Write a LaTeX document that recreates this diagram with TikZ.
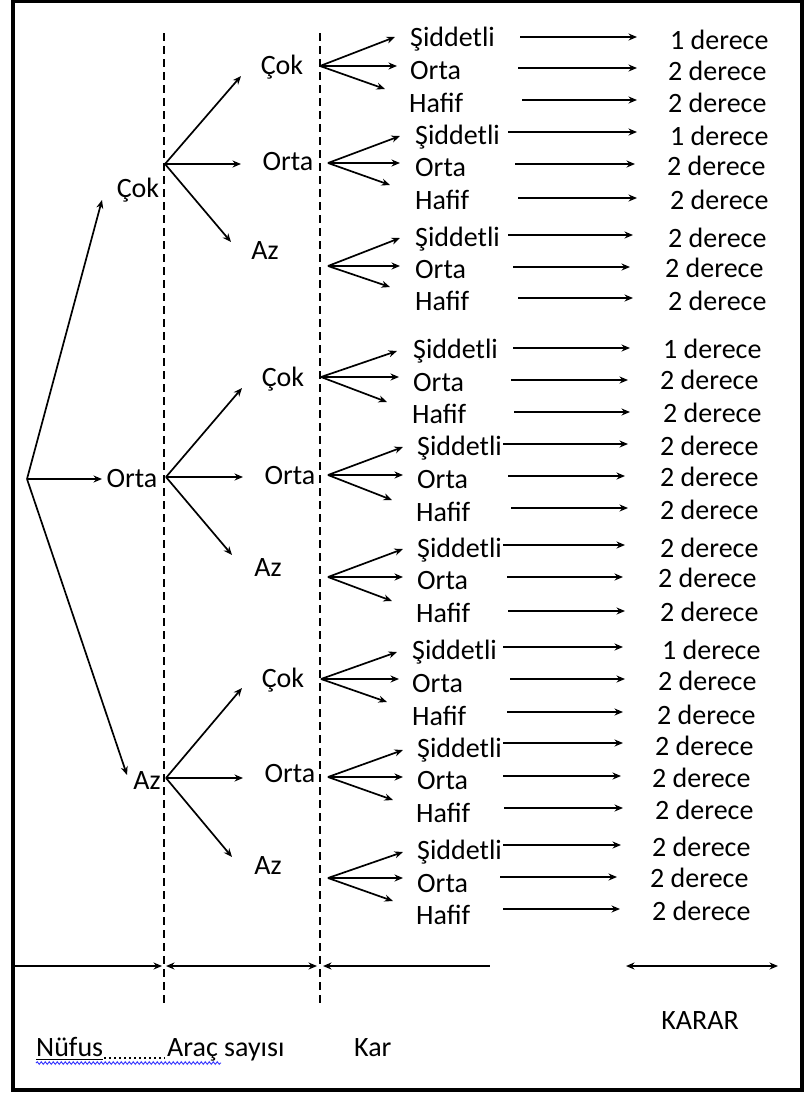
\documentclass[tikz,border=0pt]{standalone}
\usepackage{fontspec}
\setmainfont{Carlito}
\usetikzlibrary{arrows.meta,decorations.pathmorphing}
\begin{document}
\begin{tikzpicture}[x=1pt,y=-1pt,
  tip/.tip={Stealth[length=8.5pt,width=7pt]},
  arr/.style={line width=1.7pt,-tip},
  larr/.style={line width=1.7pt,tip-},
  darr/.style={line width=1.7pt,tip-tip},
  guide/.style={line width=1.4pt,dash pattern=on 8pt off 5pt},
  lbl/.style={inner sep=0pt,font=\fontsize{28}{32}\selectfont,anchor=base},
  lblw/.style={lbl,anchor=base west}]
\useasboundingbox (0,0) rectangle (805,1093);
% outer frame
\draw[line width=4pt] (13,1) rectangle (802,1090);

% column separators
\coordinate (g1t) at (164,33);  \coordinate (g1b) at (164,1004);
\coordinate (g2t) at (320,33);  \coordinate (g2b) at (320,1004);
\draw[guide] (g1t) -- (g1b);
\draw[guide] (g2t) -- (g2b);

% root and first level (Nüfus)
\coordinate (root) at (27,479);
\coordinate (r1) at (102,200);
\coordinate (r2) at (102,479);
\coordinate (r3) at (127,775);
\draw[arr] (root) -- (r1);
\draw[arr] (root) -- (r2);
\draw[arr] (root) -- (r3);
\node[lbl] (n1) at (138,197) {Çok};
\node[lbl] (n2) at (132,487) {Orta};
\node[lbl] (n3) at (147,789) {Az};

% second level (Araç sayısı)
\foreach \g/\ox/\oy/\ux/\uy/\mx/\my/\dx/\dy in {
  1/165/164/241/76/241/164/231/242,
  2/166/477/242/388/243/477/232/555,
  3/166/778/242/688/243/778/232/857}{
  \coordinate (p\g) at (\ox,\oy);
  \coordinate (p\g-u) at (\ux,\uy);
  \coordinate (p\g-m) at (\mx,\my);
  \coordinate (p\g-d) at (\dx,\dy);
  \draw[arr] (p\g) -- (p\g-u);
  \draw[arr] (p\g) -- (p\g-m);
  \draw[arr] (p\g) -- (p\g-d);
}
\foreach \i/\x/\y/\t in {
  1/282/65/Çok, 2/288/161/Orta, 3/265/250/Az,
  4/283/377/Çok, 5/290/475/Orta, 6/268/567/Az,
  7/283/678/Çok, 8/290/773/Orta, 9/268/865/Az}{
  \node[lbl] (m\i) at (\x,\y+9) {\t};
}

% third level (Kar)
\foreach \g/\ox/\oy/\ux/\uy/\mx/\my/\dx/\dy in {
  1/320/66/395/37/397/66/385/89,
  2/328/163/400/136/400/163/390/185,
  3/328/266/400/238/400/266/390/287,
  4/321/377/397/351/399/377/387/402,
  5/328/475/403/447/403/475/392/500,
  6/328/577/403/549/403/577/392/601,
  7/321/679/397/652/399/679/387/702,
  8/328/777/403/750/403/777/393/800,
  9/328/878/403/852/403/878/393/901}{
  \coordinate (f\g) at (\ox,\oy);
  \coordinate (f\g-u) at (\ux,\uy);
  \coordinate (f\g-m) at (\mx,\my);
  \coordinate (f\g-d) at (\dx,\dy);
  \draw[arr] (f\g) -- (f\g-u);
  \draw[arr] (f\g) -- (f\g-m);
  \draw[arr] (f\g) -- (f\g-d);
}

% Kar classes and decisions
\foreach \i/\lx/\ly/\t/\ax/\bx/\ay/\rx/\ry/\v in {
  1/410/37/Şiddetli/520/637/37/670/40/1,
  2/410/70/Orta/518/637/68/668/71/2,
  3/409/103/Hafif/522/637/100/668/103/2,
  4/415/135/Şiddetli/508/637/132/670/136/1,
  5/415/167/Orta/515/635/164/667/166/2,
  6/415/200/Hafif/518/637/198/670/200/2,
  7/415/237/Şiddetli/508/633/235/668/238/2,
  8/415/269/Orta/513/630/267/665/268/2,
  9/415/301/Hafif/518/633/298/668/301/2,
  10/413/349/Şiddetli/513/630/348/663/349/1,
  11/413/382/Orta/511/628/380/660/380/2,
  12/412/414/Hafif/514/630/412/663/413/2,
  13/417/446/Şiddetli/503/628/444/660/446/2,
  14/417/479/Orta/508/625/476/660/477/2,
  15/416/512/Hafif/511/628/508/660/510/2,
  16/417/548/Şiddetli/503/625/545/660/548/2,
  17/417/580/Orta/507/623/577/658/578/2,
  18/416/613/Hafif/508/625/611/660/612/2,
  19/412/650/Şiddetli/503/623/647/662/650/1,
  20/412/683/Orta/510/625/679/658/681/2,
  21/412/716/Hafif/507/623/712/657/715/2,
  22/417/748/Şiddetli/503/623/743/655/746/2,
  23/417/780/Orta/503/621/776/652/778/2,
  24/416/813/Hafif/504/623/808/655/810/2,
  25/417/850/Şiddetli/503/621/845/652/847/2,
  26/417/883/Orta/500/617/877/650/878/2,
  27/416/915/Hafif/503/620/909/652/911/2}{
  \node[lblw] (k\i) at (\lx,\ly+9) {\t};
  \coordinate (s\i) at (\ax,\ay);
  \coordinate (e\i) at (\bx,\ay);
  \draw[arr] (s\i) -- (e\i);
  \node[lblw] (d\i) at (\rx,\ry+9) {\v\ derece};
}

% bottom axis
\coordinate (a0) at (13,966);
\coordinate (a1) at (162,966);
\coordinate (a2) at (166,966);
\coordinate (a3) at (317,966);
\coordinate (a4) at (323,966);
\coordinate (a5) at (490,966);
\coordinate (b1) at (626,966);
\coordinate (b2) at (778,966);
\draw[arr] (a0) -- (a1);
\draw[darr] (a2) -- (a3);
\draw[larr] (a4) -- (a5);
\draw[darr] (b1) -- (b2);

% axis captions
\node[lbl] (karar) at (700,1029) {KARAR};
\node[lblw] (nufus) at (36,1056) {Nüfus};
\node[lblw] (arac) at (167,1056) {Araç sayısı};
\node[lblw] (kar) at (354,1056) {Kar};
\draw[line width=1pt] (nufus.base west) ++(0,3) -- ++(67,0);
\draw[line width=1.6pt,dash pattern=on 1.6pt off 3.4pt] (104,1058) -- (165,1058);
\draw[blue!80!white,line width=0.9pt,decorate,
  decoration={snake,amplitude=1.3pt,segment length=4pt}] (36,1063) -- (221,1063);
\end{tikzpicture}
\end{document}
